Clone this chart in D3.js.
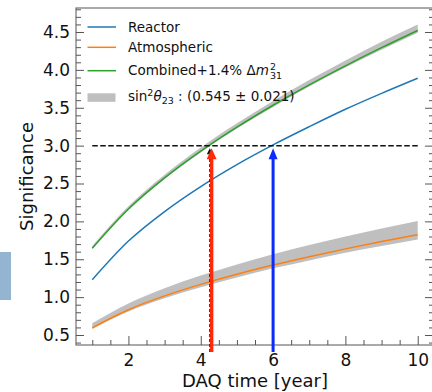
<!DOCTYPE html>
<html><head><meta charset="utf-8">
<script src="https://cdn.jsdelivr.net/npm/d3@7"></script>
<style>body{margin:0;background:#fff}svg{display:block}text{font-family:"DejaVu Sans",sans-serif}</style>
</head><body>
<svg id="c" width="432" height="392"></svg>
<script>
const years = [1,2,3,4,5,6,7,8,9,10];
const reactor = [1.23,1.74,2.13,2.46,2.75,3.01,3.25,3.48,3.69,3.89];
const atmospheric = [0.595,0.834,1.016,1.168,1.302,1.423,1.534,1.637,1.733,1.824];
const atmBandUpper = [0.655,0.917,1.118,1.285,1.432,1.565,1.687,1.801,1.906,2.006];
const atmBandLower = [0.58,0.81,0.985,1.13,1.26,1.38,1.485,1.585,1.675,1.76];
const combined = [1.645,2.163,2.574,2.927,3.243,3.533,3.802,4.054,4.293,4.521];
const combBandUpper = [1.675,2.2,2.615,2.975,3.295,3.59,3.865,4.125,4.37,4.60];
const combBandLower = [1.635,2.15,2.56,2.91,3.225,3.51,3.78,4.03,4.265,4.49];
const threshold = 3.0;
const crossCombined = 4.25;
const crossReactor = 6.0;
const xMajor = [2,4,6,8,10];
const yMajor = [0.5,1.0,1.5,2.0,2.5,3.0,3.5,4.0,4.5];
const yLabels = ["0.5","1.0","1.5","2.0","2.5","3.0","3.5","4.0","4.5"];
const legendItems = ["Reactor","Atmospheric","Combined+1.4% ","sin"];

const svg = d3.select("#c");
const L=76, R=434, T=8, B=345;
const x = d3.scaleLinear().domain([0.55,10.45]).range([L,R]);
const y = d3.scaleLinear().domain([0.368,4.817]).range([B,T]);

// stray side patch
svg.append("rect").attr("x",0).attr("y",252).attr("width",11).attr("height",48).attr("fill","#94b5d2");

const plot = svg.append("g");
const curve = d3.curveMonotoneX;
const area = (up, lo) => d3.area().x((d,i)=>x(years[i])).y0((d,i)=>y(lo[i])).y1((d,i)=>y(up[i])).curve(curve)(years);
const line = (vals) => d3.line().x((d,i)=>x(years[i])).y(d=>y(d)).curve(curve)(vals);

plot.append("path").attr("d",area(atmBandUpper,atmBandLower)).attr("fill","#bfbfbf");
plot.append("path").attr("d",area(combBandUpper,combBandLower)).attr("fill","#bfbfbf");
plot.append("path").attr("d",line(reactor)).attr("fill","none").attr("stroke","#1f77b4").attr("stroke-width",1.5);
plot.append("path").attr("d",line(atmospheric)).attr("fill","none").attr("stroke","#ff7f0e").attr("stroke-width",1.5);
plot.append("path").attr("d",line(combined)).attr("fill","none").attr("stroke","#2ca02c").attr("stroke-width",1.5);

// threshold line
plot.append("line").attr("x1",x(1)).attr("x2",x(10)).attr("y1",y(threshold)).attr("y2",y(threshold))
  .attr("stroke","#111").attr("stroke-width",1.5).attr("stroke-dasharray","5.5,2.5");

// axes frame
svg.append("rect").attr("x",L).attr("y",T).attr("width",R-L).attr("height",B-T)
  .attr("fill","none").attr("stroke","#555").attr("stroke-width",1);

function styleAxis(g){
  g.select(".domain").remove();
  g.selectAll(".tick line").attr("stroke","#555");
  g.selectAll(".tick text").attr("fill","#111").style("font-family","DejaVu Sans").style("font-size","17px");
}
const xMinor = d3.range(1,10.01,0.5).filter(v=>!xMajor.includes(v));
const yMinor = d3.range(4,49).map(v=>v/10).filter(v=>!yMajor.some(m=>Math.abs(m-v)<1e-6));

svg.append("g").attr("transform",`translate(0,${B})`)
  .call(d3.axisBottom(x).tickValues(xMajor).tickFormat(d3.format("d")).tickSize(-9).tickPadding(9)).call(styleAxis);
svg.append("g").attr("transform",`translate(0,${B})`)
  .call(d3.axisBottom(x).tickValues(xMinor).tickFormat("").tickSize(-5)).call(styleAxis);
svg.append("g").attr("transform",`translate(${L},0)`)
  .call(d3.axisLeft(y).tickValues(yMajor).tickFormat((d,i)=>yLabels[i]).tickSize(-8).tickPadding(6)).call(styleAxis);
svg.append("g").attr("transform",`translate(${L},0)`)
  .call(d3.axisLeft(y).tickValues(yMinor).tickFormat("").tickSize(-5)).call(styleAxis);
svg.append("g").attr("transform",`translate(${R},0)`)
  .call(d3.axisRight(y).tickValues(yMajor).tickFormat("").tickSize(-9)).call(styleAxis);
svg.append("g").attr("transform",`translate(${R},0)`)
  .call(d3.axisRight(y).tickValues(yMinor).tickFormat("").tickSize(-5)).call(styleAxis);

// arrows
const tipY = y(threshold)+2.5, baseY = 352;
function arrow(xv, color, shaftW, headW, headL){
  const cx = x(xv);
  svg.append("line").attr("x1",cx).attr("x2",cx).attr("y1",baseY).attr("y2",tipY+headL-1)
    .attr("stroke",color).attr("stroke-width",shaftW);
  svg.append("path").attr("d",`M${cx},${tipY} L${cx-headW/2},${tipY+headL} L${cx+headW/2},${tipY+headL} Z`).attr("fill",color);
}
// black dashed guide
svg.append("line").attr("x1",x(crossCombined)).attr("x2",x(crossCombined)).attr("y1",baseY).attr("y2",tipY+5)
  .attr("stroke","#111").attr("stroke-width",1.2).attr("stroke-dasharray","3,2");
svg.append("path").attr("d",`M${x(crossCombined)},${tipY} l-3,6 l6,0 Z`).attr("fill","#111");
arrow(crossCombined+0.05, "#ff2a0a", 3.5, 10, 11);
arrow(crossReactor, "#0a2aff", 3, 9, 11);

// legend
const lg = svg.append("g");
const rowsY = [27, 47.3, 70.7];
const colors = ["#1f77b4","#ff7f0e","#2ca02c"];
const baselines = [32.3, 52.3, 75];
rowsY.forEach((ry,i)=>{
  lg.append("line").attr("x1",87.5).attr("x2",116).attr("y1",ry).attr("y2",ry).attr("stroke",colors[i]).attr("stroke-width",1.5);
});
lg.append("text").attr("x",128).attr("y",baselines[0]).attr("font-size",13.5).attr("fill","#111").text(legendItems[0]);
lg.append("text").attr("x",128).attr("y",baselines[1]).attr("font-size",13.5).attr("fill","#111").text(legendItems[1]);
const ct = lg.append("text").attr("x",128).attr("y",baselines[2]).attr("font-size",13.5).attr("fill","#111");
ct.append("tspan").text(legendItems[2]);
ct.append("tspan").text("Δ");
ct.append("tspan").attr("font-style","italic").text("m");
const cw = ct.node().getComputedTextLength();
lg.append("text").attr("x",128+cw+1).attr("y",baselines[2]-5.5).attr("font-size",9.5).attr("fill","#111").text("2");
lg.append("text").attr("x",128+cw+1).attr("y",baselines[2]+4).attr("font-size",9.5).attr("fill","#111").text("31");

lg.append("rect").attr("x",87.5).attr("y",93.3).attr("width",28).attr("height",8.5).attr("fill","#bfbfbf");
const st = lg.append("text").attr("x",128).attr("y",101).attr("font-size",13.5).attr("fill","#111");
st.append("tspan").text(legendItems[3]);
st.append("tspan").attr("font-size",9.5).attr("dy",-5.5).text("2");
st.append("tspan").attr("dy",5.5).attr("font-style","italic").text("θ");
st.append("tspan").attr("font-size",9.5).attr("dy",3).text("23");
st.append("tspan").attr("dy",-3).text(" : (0.545 ± 0.021)");

// axis titles
svg.append("text").attr("x",(L+R)/2).attr("y",386.5).attr("text-anchor","middle").attr("font-size",18).attr("fill","#111").text("DAQ time [year]");
svg.append("text").attr("transform",`translate(33,${(T+B)/2}) rotate(-90)`).attr("text-anchor","middle").attr("font-size",18).attr("fill","#111").text("Significance");
</script>
</body></html>
